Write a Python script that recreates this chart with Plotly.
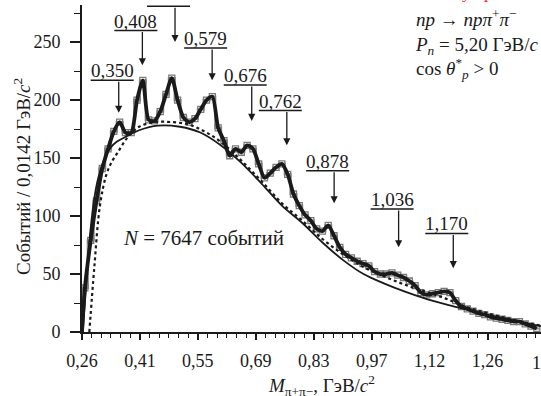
import plotly.graph_objects as go
import numpy as np

# ---------------- data ----------------
M_START = 0.26          # GeV/c^2, left edge of first bin
BIN_W = 0.0142          # GeV/c^2 per bin
counts = [38, 79, 113, 141, 158, 173, 181, 172, 172, 200, 217, 183, 182, 190, 205,
          219, 200, 185, 181, 184, 192, 200, 203, 176, 165, 152, 158, 155, 161, 158,
          145, 133, 137, 142, 145, 136, 119, 109, 101, 96, 89, 87, 92, 83, 73,
          67, 64, 61, 59, 57, 52, 50, 50, 51, 49, 47, 44, 40, 34, 32,
          33, 34, 35, 34, 27, 22, 20, 18, 16, 15, 13, 12, 11, 10, 9,
          9, 7, 5, 3]

# smooth phase-space curve (solid)
ps_mass = [0.262, 0.27, 0.28, 0.29, 0.30, 0.316, 0.33, 0.345, 0.365, 0.40, 0.446, 0.50,
           0.55, 0.60, 0.65, 0.70, 0.75, 0.80, 0.85, 0.90, 0.95, 1.00, 1.05, 1.10,
           1.15, 1.20, 1.25, 1.30, 1.35, 1.385]
ps_val = [0, 40, 85, 115, 133, 150, 159, 164, 168, 174, 178, 177,
          172, 161, 146, 128, 109, 94, 77, 62, 50, 42, 35, 29,
          24, 19.5, 15, 11.5, 7.5, 5]

# dotted curve
dot_mass = [0.278, 0.29, 0.304, 0.32, 0.335, 0.348, 0.37, 0.40, 0.44, 0.48, 0.52, 0.56,
            0.60, 0.65, 0.70, 0.75, 0.80, 0.85, 0.90, 0.95, 1.00, 1.05, 1.10, 1.15,
            1.20, 1.25, 1.30, 1.35, 1.385]
dot_val = [0, 55, 109, 136, 148, 155, 167, 177, 181, 181, 179, 173,
           164, 148, 130, 111, 96, 80, 67, 56, 48, 41, 35, 29,
           22, 16.5, 12, 8, 5.5]

# resonance markers: mass, label
res_mass = [0.350, 0.408, 0.488, 0.579, 0.676, 0.762, 0.878, 1.036, 1.170]
res_label = ["0,350", "0,408", None, "0,579", "0,676", "0,762", "0,878", "1,036", "1,170"]

x_tick_text = ["0,26", "0,41", "0,55", "0,69", "0,83", "0,97", "1,12", "1,26"]
y_tick_vals = [0, 50, 100, 150, 200, 250]

# ---------------- layout geometry ----------------
W, H = 541, 396
L, R, T, B = 82, 0, 5, 64
PX_PER_GEV = 408.0
X_MAX = M_START + (W - L - R) / PX_PER_GEV
Y_MAX = 282
PLOT_H = H - T - B

def px2paper(px, py):
    return (px - L) / (W - L - R), (H - B - py) / PLOT_H

# annotation layout (bar level, arrow tip in count units)
bar_level = [217, 260, 281, 245, 213, 191, 139, 106, 85]
tip_level = [189, 230, 250, 217, 182, 161, 111, 73, 55]

FONT = "Liberation Serif, Times New Roman, serif"
INK = "#1a1a1a"

n = len(counts)
edges = M_START + BIN_W * np.arange(n + 1)
centers = M_START + BIN_W * (np.arange(n) + 0.5)

fig = go.Figure()

# histogram outline (grey steps)
step_x = np.concatenate([[edges[0]], edges])
step_y = [0] + counts + [counts[-1]]
fig.add_trace(go.Scatter(x=step_x, y=step_y, mode="lines",
                         line=dict(color="#8c8c8c", width=2.2, shape="hv"),
                         hoverinfo="skip"))
fig.add_trace(go.Scatter(x=centers, y=counts, mode="markers",
                         marker=dict(symbol="square-open", size=6, color="#7a7a7a",
                                     line=dict(width=1.3)),
                         hoverinfo="skip"))
# phase space (solid)
fig.add_trace(go.Scatter(x=ps_mass, y=ps_val, mode="lines",
                         line=dict(color=INK, width=1.8, shape="spline", smoothing=1.0)))
# dotted curve
fig.add_trace(go.Scatter(x=dot_mass, y=dot_val, mode="lines",
                         line=dict(color=INK, width=2.2, dash="dot", shape="spline", smoothing=1.0)))
# thick fitted curve
fit_x = np.concatenate([[edges[0]], centers])
fit_y = [0] + counts
fig.add_trace(go.Scatter(x=fit_x, y=fit_y, mode="lines",
                         line=dict(color=INK, width=3.8, shape="spline", smoothing=0.7)))

# resonance markers
for m, lab, bar, tip in zip(res_mass, res_label, bar_level, tip_level):
    fig.add_shape(type="line", xref="x", yref="y",
                  x0=m - 28 / PX_PER_GEV, x1=m + 15 / PX_PER_GEV, y0=bar, y1=bar,
                  line=dict(color=INK, width=1.5))
    fig.add_annotation(x=m, y=tip, ax=m, ay=bar, xref="x", yref="y", axref="x", ayref="y",
                       text="", showarrow=True, arrowhead=2, arrowsize=1.1,
                       arrowwidth=1.3, arrowcolor=INK)
    if lab:
        fig.add_annotation(x=m - 6.5 / PX_PER_GEV, y=bar, xref="x", yref="y",
                           text=lab, showarrow=False, yanchor="bottom", yshift=-3,
                           font=dict(family=FONT, size=19, color=INK))

def txt(px, py, text, size=20, xanchor="center", yanchor="middle", angle=0, color=INK):
    x, y = px2paper(px, py)
    fig.add_annotation(x=x, y=y, xref="paper", yref="paper", text=text, showarrow=False,
                       xanchor=xanchor, yanchor=yanchor, textangle=angle, align="left",
                       font=dict(family=FONT, size=size, color=color))

txt(203, 238, "<i>N</i> = 7647 событий", size=21)
txt(22, 177, "Событий / 0,0142 ГэВ/<i>c</i><sup>2</sup>", size=19, angle=-90)
txt(321, 385, "<i>M</i><sub>π+π−</sub>, ГэВ/<i>c</i><sup>2</sup>", size=19)
txt(413, 4, "<i>np</i> → <i>npπ</i><sup>+</sup><i>π</i><sup>−</sup><br>"
            "<i>P<sub>n</sub></i> = 5,20 ГэВ/<i>c</i><br>"
            "cos <i>θ</i><sup>*</sup><sub><i>p</i></sub> > 0",
    size=19, xanchor="left", yanchor="top")
txt(548, 351, "1,40", size=18, xanchor="center", yanchor="top")
# clipped red caption fragments at the very top
txt(466, 4, "у", size=17, yanchor="bottom", color="#ff2020")
txt(488, 4, "р", size=17, yanchor="bottom", color="#ff2020")

tickfont = dict(family=FONT, size=18, color=INK)
fig.update_xaxes(range=[M_START, X_MAX], showline=True, linecolor=INK, linewidth=1.8,
                 showgrid=False, zeroline=False, ticks="outside", ticklen=6, tickwidth=1.5,
                 tickcolor=INK, tickmode="array",
                 tickvals=[M_START + k * 10 * BIN_W for k in range(len(x_tick_text))],
                 ticktext=x_tick_text, tickfont=tickfont, ticklabelstandoff=5,
                 minor=dict(ticks="outside", ticklen=4, tickwidth=1.2, tickcolor=INK,
                            tickmode="linear", tick0=M_START, dtick=10 * BIN_W / 6))
fig.update_yaxes(range=[0, Y_MAX], showline=True, linecolor=INK, linewidth=1.8,
                 showgrid=False, zeroline=False, ticks="outside", ticklen=10, tickwidth=1.5,
                 tickcolor=INK, tickmode="array", tickvals=y_tick_vals,
                 ticktext=[str(v) for v in y_tick_vals], tickfont=tickfont, ticklabelstandoff=6,
                 minor=dict(ticks="outside", ticklen=6, tickwidth=1.2, tickcolor=INK,
                            tickmode="linear", tick0=0, dtick=25))
fig.update_layout(width=W, height=H, margin=dict(l=L, r=R, t=T, b=B, pad=0),
                  plot_bgcolor="white", paper_bgcolor="white", showlegend=False)

fig.write_html("out.html")
